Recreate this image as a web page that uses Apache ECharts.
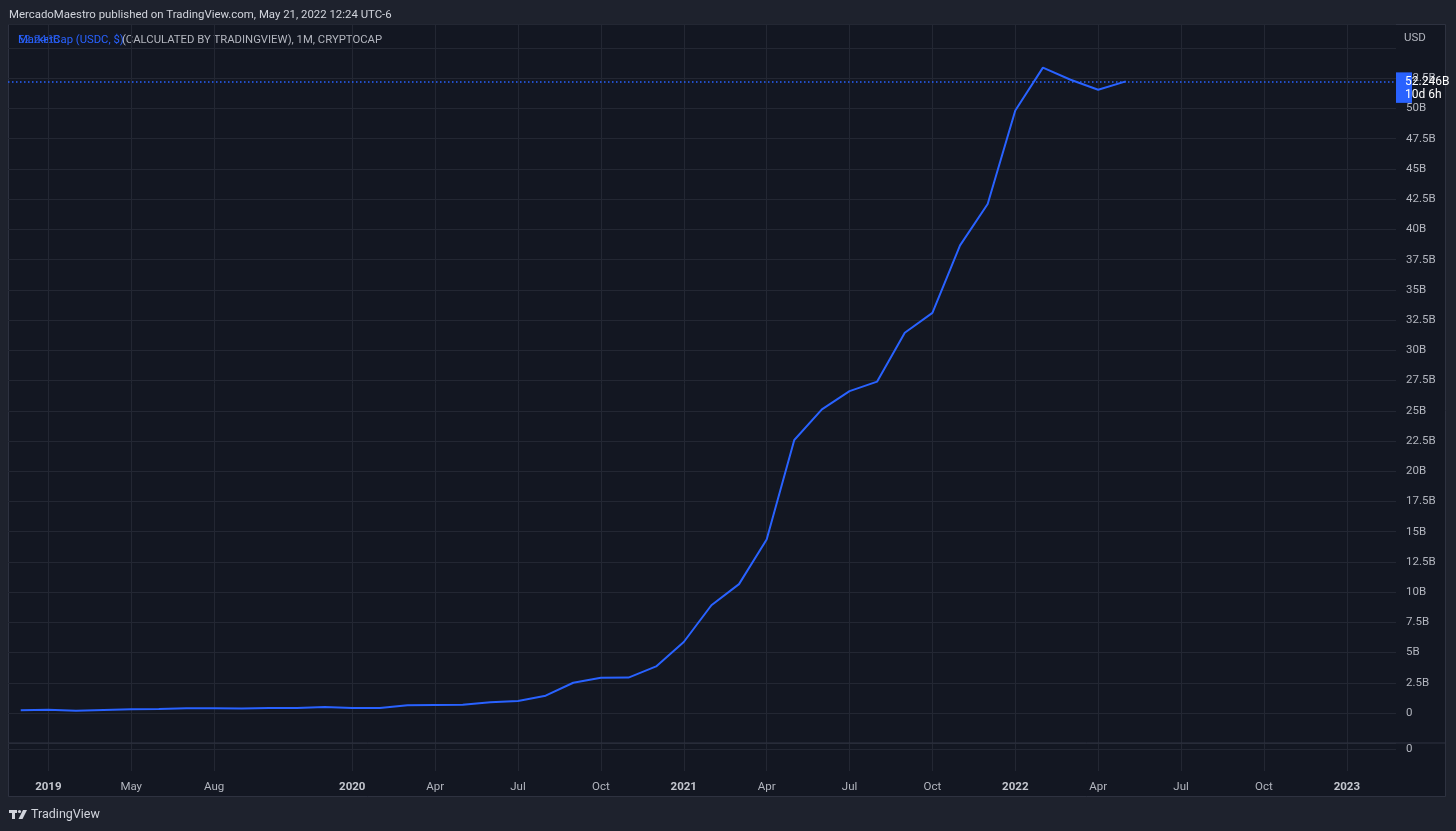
<!DOCTYPE html>
<html lang="en">
<head>
    <meta charset="UTF-8">
    <title>USDC Market Cap</title>
    <script src="https://cdn.jsdelivr.net/npm/echarts@6/dist/echarts.min.js"></script>
    <style>
        html, body { margin: 0; padding: 0; background: #1e222d; }
    </style>
</head>
<body>
    <div id="main" style="width: 1456px;height:831px;"></div>
    <script type="text/javascript">
    // monthly bars, Jan 2019 .. May 2022
    var months = ['2019-01','2019-02','2019-03','2019-04','2019-05','2019-06','2019-07','2019-08','2019-09','2019-10','2019-11','2019-12',
        '2020-01','2020-02','2020-03','2020-04','2020-05','2020-06','2020-07','2020-08','2020-09','2020-10','2020-11','2020-12',
        '2021-01','2021-02','2021-03','2021-04','2021-05','2021-06','2021-07','2021-08','2021-09','2021-10','2021-11','2021-12',
        '2022-01','2022-02','2022-03','2022-04','2022-05'];
    // market cap, billions USD
    var marketCap = [0.22, 0.27, 0.19, 0.25, 0.30, 0.33, 0.39, 0.39, 0.38, 0.41, 0.41, 0.50,
        0.41, 0.41, 0.63, 0.66, 0.68, 0.88, 0.99, 1.43, 2.50, 2.91, 2.93, 3.85,
        5.87, 8.91, 10.66, 14.35, 22.58, 25.12, 26.62, 27.41, 31.45, 33.10, 38.68, 42.10,
        49.83, 53.38, 52.38, 51.55, 52.246];
    // time scale labels (bar index -> text)
    var tickIndex = [1, 4, 7, 12, 15, 18, 21, 24, 27, 30, 33, 36, 39, 42, 45, 48];
    var tickText = ['2019','May','Aug','2020','Apr','Jul','Oct','2021','Apr','Jul','Oct','2022','Apr','Jul','Oct','2023'];
    var yearText = ['2019','2020','2021','2022','2023'];

    var FONT = 'Roboto';
    var LABEL = '#b2b5be';
    var GRID = '#232733';
    var BORDER = '#2e3240';
    var BLUE = '#2962ff';

    var lastIdx = marketCap.length - 1;
    var lastVal = marketCap[lastIdx];
    var seriesData = marketCap.map(function (v, i) { return [i, v]; });

    var myChart = echarts.init(document.getElementById('main'));

    function baseGraphic() {
        return [
            {id: 'pane', type: 'rect', z: -1, shape: {x: 8.5, y: 24.5, width: 1437, height: 772},
                style: {fill: '#131722', stroke: BORDER, lineWidth: 1}},
            {id: 'divider', type: 'line', z: 5, shape: {x1: 8, y1: 743, x2: 1446, y2: 743},
                style: {stroke: BORDER, lineWidth: 1}},
            {id: 'pub', type: 'text', left: 9, top: 10,
                style: {text: 'MercadoMaestro published on TradingView.com, May 21, 2022 12:24 UTC-6',
                    fill: '#d1d4dc', font: '11.4px ' + FONT}},
            {id: 'leg1', type: 'text', left: 18, top: 35,
                style: {text: 'MarketCap (USDC, $)', fill: BLUE, font: '11.3px ' + FONT}},
            {id: 'leg2', type: 'text', left: 18, top: 35,
                style: {text: lastVal.toFixed(3) + 'B', fill: BLUE, opacity: 0.8, font: '11.3px ' + FONT}},
            {id: 'leg3', type: 'text', left: 122, top: 35,
                style: {text: '(CALCULATED BY TRADINGVIEW), 1M, CRYPTOCAP', fill: '#b2b5be', font: '11.3px ' + FONT}},
            {id: 'usd', type: 'text', left: 1404, top: 32,
                style: {text: 'USD', fill: LABEL, font: '11.5px ' + FONT}},
            {id: 'logo1', type: 'rect', shape: {x: 9, y: 810, width: 8, height: 3}, style: {fill: '#d1d4dc'}},
            {id: 'logo2', type: 'rect', shape: {x: 12, y: 810, width: 3, height: 9}, style: {fill: '#d1d4dc'}},
            {id: 'logo3', type: 'circle', shape: {cx: 19.5, cy: 811.5, r: 1.6}, style: {fill: '#d1d4dc'}},
            {id: 'logo4', type: 'polygon', shape: {points: [[23, 810], [27, 810], [22.5, 819], [18.5, 819]]}, style: {fill: '#d1d4dc'}},
            {id: 'brand', type: 'text', left: 31, top: 808,
                style: {text: 'TradingView', fill: '#d1d4dc', font: '12.5px ' + FONT}}
        ];
    }

    var option = {
        backgroundColor: '#1e222d',
        animation: false,
        textStyle: {fontFamily: FONT},
        grid: [
            {left: 8, top: 23.9, width: 1388, height: 719.3},
            {left: 8, top: 743.2, width: 1388, height: 27.8}
        ],
        xAxis: [
            {
                type: 'value', gridIndex: 0, min: -0.46, max: 49.78,
                axisLine: {show: false},
                axisTick: {show: false, customValues: tickIndex},
                axisLabel: {show: false},
                splitLine: {show: true, lineStyle: {color: GRID, width: 1}}
            },
            {
                type: 'value', gridIndex: 1, min: -0.46, max: 49.78,
                axisLine: {show: false},
                axisTick: {show: false, customValues: tickIndex},
                axisLabel: {
                    customValues: tickIndex,
                    color: LABEL, fontSize: 11.5, margin: 10,
                    formatter: function (v) {
                        var t = tickText[tickIndex.indexOf(Math.round(v))];
                        return yearText.indexOf(t) >= 0 ? '{b|' + t + '}' : t;
                    },
                    rich: {b: {fontWeight: 'bold', color: '#c4c7cf', fontSize: 11.5}}
                },
                splitLine: {show: true, lineStyle: {color: GRID, width: 1}}
            }
        ],
        yAxis: [
            {
                type: 'value', gridIndex: 0, position: 'right',
                min: -2.5, max: 57, interval: 2.5,
                axisLine: {show: false}, axisTick: {show: false},
                axisLabel: {
                    color: LABEL, fontSize: 11.5, margin: 10, align: 'left',
                    showMinLabel: false, showMaxLabel: false,
                    formatter: function (v) {
                        if (v < 0 || v >= 55) return '';
                        return v === 0 ? '0' : v + 'B';
                    }
                },
                splitLine: {show: true, lineStyle: {color: GRID, width: 1}}
            },
            {
                type: 'value', gridIndex: 1, position: 'right',
                min: -1, max: 0.28,
                axisLine: {show: false},
                axisTick: {show: false, customValues: [0]},
                axisLabel: {customValues: [0], color: LABEL, fontSize: 11.5, margin: 10, align: 'left'},
                splitLine: {show: true, lineStyle: {color: GRID, width: 1}}
            }
        ],
        series: [
            {
                name: 'Market Cap',
                type: 'line',
                xAxisIndex: 0, yAxisIndex: 0,
                data: seriesData,
                showSymbol: false,
                symbol: 'none',
                color: BLUE,
                lineStyle: {color: BLUE, width: 2},
                emphasis: {disabled: true},
                markLine: {
                    silent: true,
                    symbol: 'none',
                    lineStyle: {color: 'rgb(41, 98, 255)', type: [1.5, 2.5], width: 1.5, opacity: 1},
                    label: {
                        position: 'end', distance: 9,
                        color: '#ffffff', fontSize: 12, lineHeight: 13,
                        offset: [0, 7],
                        formatter: function () { return lastVal.toFixed(3) + 'B\n10d 6h'; }
                    },
                    emphasis: {disabled: true},
                    data: [{yAxis: lastVal}]
                }
            },
            {
                type: 'line', xAxisIndex: 1, yAxisIndex: 1, data: []
            }
        ],
        graphic: baseGraphic()
    };
    myChart.setOption(option);

    // price tag box sits on the last value
    var p = myChart.convertToPixel({xAxisIndex: 0, yAxisIndex: 0}, [lastIdx, lastVal]);
    var g = baseGraphic();
    g.push({id: 'tag', type: 'rect', z: 1, shape: {x: 1396, y: p[1] - 9, width: 16, height: 30.5},
        style: {fill: BLUE}});
    myChart.setOption({graphic: g});
    </script>
</body>
</html>
